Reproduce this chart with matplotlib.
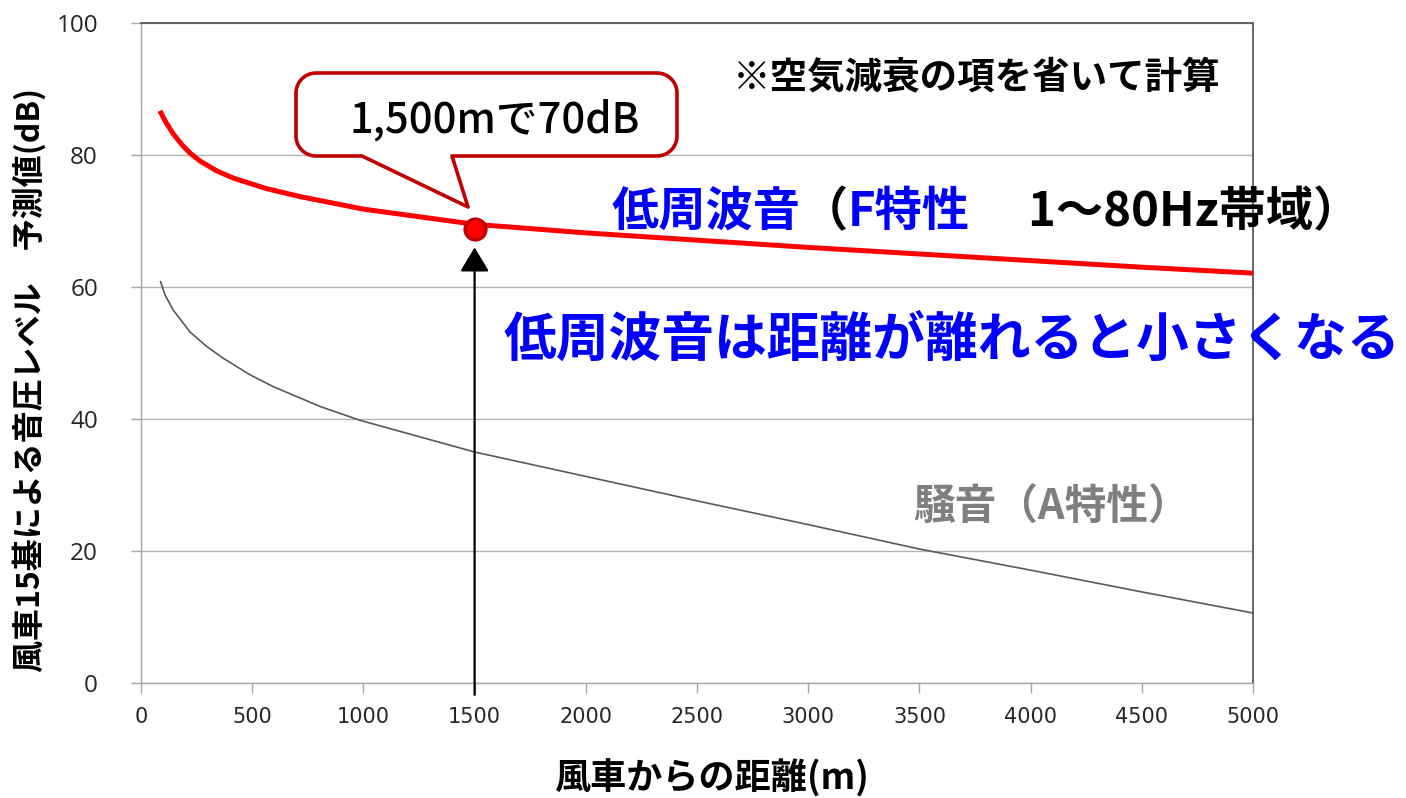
import matplotlib
matplotlib.use("Agg")
import matplotlib.pyplot as plt
import matplotlib.transforms as mtransforms
from matplotlib.path import Path
from matplotlib.patches import PathPatch
import numpy as np

# ---------------- data ----------------
dist_f = [85, 100, 115, 145, 183, 220, 265, 340, 415, 565, 715, 1000, 1500, 2000, 2500, 3000, 3500, 4000, 4500, 5000]
level_f = [86.7, 85.7, 84.8, 83.2, 81.6, 80.3, 79.1, 77.6, 76.5, 74.9, 73.7, 71.8, 69.5, 68.2, 67.1, 66.0, 65.0, 64.0, 63.0, 62.1]

dist_a = [88, 108, 145, 220, 295, 370, 490, 595, 805, 985, 1500, 2000, 2500, 3000, 3500, 4000, 4500, 5000]
level_a = [60.8, 58.8, 56.5, 53.2, 51.0, 49.2, 46.7, 44.9, 41.9, 39.8, 35.0, 31.3, 27.6, 24.0, 20.3, 17.1, 13.8, 10.6]

point_x = [1500]
point_y = [68.8]

x_ticks = [0, 500, 1000, 1500, 2000, 2500, 3000, 3500, 4000, 4500, 5000]
x_tick_labels = [str(v) for v in x_ticks]
y_ticks = [0, 20, 40, 60, 80, 100]
y_tick_labels = [str(v) for v in y_ticks]

CJK = ["Noto Sans CJK JP", "DejaVu Sans"]
plt.rcParams["font.family"] = CJK

W, H = 1406, 798
fig = plt.figure(figsize=(W / 100, H / 100), dpi=100)
fig.patch.set_facecolor("white")
ax = fig.add_axes([141 / W, 1 - 683 / H, 1112 / W, 660 / H])

ax.set_xlim(0, 5000)
ax.set_ylim(0, 100)

# spines
for s in ("left", "bottom"):
    ax.spines[s].set_color("#a6a6a6")
    ax.spines[s].set_linewidth(1.0)
for s in ("top", "right"):
    ax.spines[s].set_color("#595959")
    ax.spines[s].set_linewidth(1.3)

ax.yaxis.grid(True, color="#b3b3b3", lw=1.0)
ax.set_axisbelow(True)

ax.set_xticks(x_ticks)
ax.set_xticklabels(x_tick_labels, family=["Liberation Sans Narrow", "DejaVu Sans"], fontsize=15, color="#262626")
ax.set_yticks(y_ticks)
ax.set_yticklabels(y_tick_labels, family=["Open Sans", "DejaVu Sans"], fontsize=17.5, color="#262626")
ax.tick_params(axis="x", length=7, width=1, color="#a6a6a6", pad=10)
ax.tick_params(axis="y", length=7, width=1, color="#a6a6a6", pad=24)

# curves
ax.plot(dist_f, level_f, color="#FF0000", lw=3.6, solid_capstyle="butt", solid_joinstyle="round", zorder=3)
ax.plot(dist_a, level_a, color="#595959", lw=1.2, solid_joinstyle="round", zorder=3)

# arrow up to the point
ax.annotate("", xy=(point_x[0], 66.0), xytext=(point_x[0], -1.8),
            arrowprops=dict(arrowstyle="-|>,head_length=0.5,head_width=0.3", color="black", lw=1.6,
                            mutation_scale=30, shrinkA=0, shrinkB=0),
            annotation_clip=False, zorder=4)

ax.plot(point_x, point_y, "o", ms=15, mfc="#FF0000", mec="#C00000", mew=2.4, zorder=5, clip_on=False)

# ---------------- helpers in figure pixels ----------------
pix = mtransforms.Affine2D().scale(1 / W, -1 / H).translate(0, 1) + fig.transFigure


def ftext(x, y, s, **kw):
    return fig.text(x / W, 1 - y / H, s, **kw)


def callout(l, t, r, b, rad, tl, tr, tip):
    pts = []

    def arc(cx, cy, a0, a1):
        for a in np.linspace(np.radians(a0), np.radians(a1), 12):
            pts.append((cx + rad * np.cos(a), cy + rad * np.sin(a)))

    arc(r - rad, t + rad, -90, 0)
    arc(r - rad, b - rad, 0, 90)
    pts.append((tr, b))
    pts.append(tip)
    pts.append((tl, b))
    arc(l + rad, b - rad, 90, 180)
    arc(l + rad, t + rad, 180, 270)
    pts.append(pts[0])
    codes = [Path.MOVETO] + [Path.LINETO] * (len(pts) - 2) + [Path.CLOSEPOLY]
    return Path(pts, codes)


cp = PathPatch(callout(296, 73, 677, 156, 20, 362, 452, (468, 207)), transform=pix,
               facecolor="white", edgecolor="#C00000", lw=2.6, zorder=6, joinstyle="round")
fig.add_artist(cp)
ftext(495, 120, "1,500mで70dB", fontsize=30, fontweight="medium", color="black", ha="center",
      va="center", zorder=7)

# notes
ftext(733, 77, "※空気減衰の項を省いて計算", fontsize=27, fontweight="bold", color="black",
      ha="left", va="center")

BLUE = "#0000FF"
t1 = ftext(612, 212, "低周波音", fontsize=34, fontweight="bold", color=BLUE, ha="left", va="center")
a2 = fig.add_artist(plt.Annotation("（", xy=(1, 0.5), xycoords=t1, fontsize=34, fontweight="bold",
                                   color="black", ha="left", va="center"))
a3 = fig.add_artist(plt.Annotation("F特性", xy=(1, 0.5), xycoords=a2, fontsize=34, fontweight="bold",
                                   color=BLUE, ha="left", va="center"))
a4 = fig.add_artist(plt.Annotation("　 1～80Hz帯域）", xy=(1, 0.5), xycoords=a3, fontsize=34,
                                   fontweight="bold", color="black", ha="left", va="center"))

ftext(503, 340, "低周波音は距離が離れると小さくなる", fontsize=38, fontweight="bold", color=BLUE,
      ha="left", va="center")
ftext(913, 508, "騒音（A特性）", fontsize=30, fontweight="bold", color="#7f7f7f", ha="left", va="center")

# axis labels
ftext(30, 380, "風車15基による音圧レベル　予測値(dB)", fontsize=23, fontweight="bold", rotation=90,
      ha="center", va="center")
ftext(712, 778, "風車からの距離(m)", fontsize=26, fontweight="bold", ha="center", va="center")

fig.savefig("out.png", dpi=100, facecolor="white")
